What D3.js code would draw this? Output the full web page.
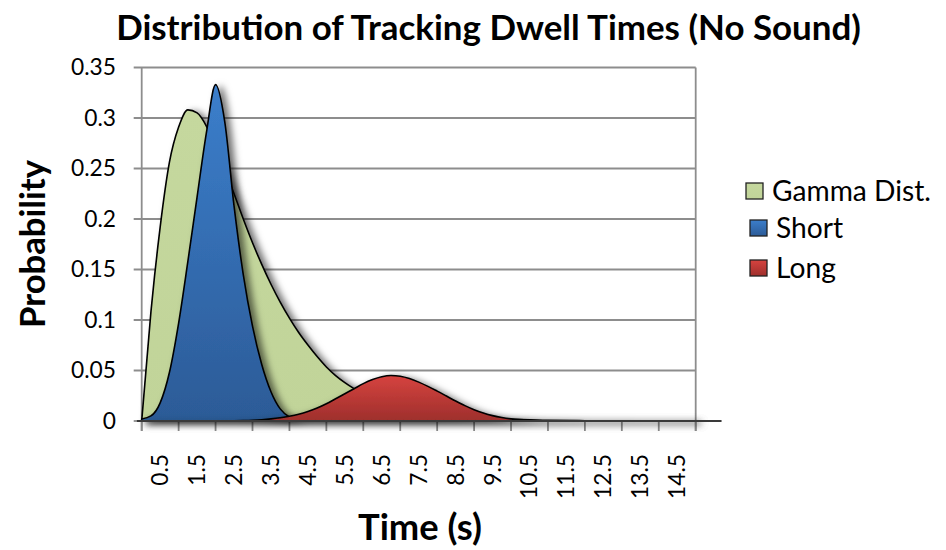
<!DOCTYPE html>
<html><head><meta charset="utf-8">
<script src="https://cdn.jsdelivr.net/npm/d3@7"></script>
<style>html,body{margin:0;padding:0;background:#fff;}svg{display:block;font-family:Lato,"Open Sans",sans-serif;}</style>
</head><body>
<svg id="chart" width="946" height="550"></svg>
<script>
// ---- data ----
const times = [0,0.25,0.5,0.75,1,1.25,1.5,1.75,2,2.25,2.5,2.75,3,3.25,3.5,3.75,4,4.25,4.5,4.75,5,5.25,5.5,5.75,6,6.25,6.5,6.75,7,7.25,7.5,7.75,8,8.25,8.5,8.75,9,9.25,9.5,9.75,10,10.5,11,12,13,14,15];
const gammaDist = [0,0.108,0.192,0.256,0.291,0.308,0.305,0.292,0.271,0.249,0.225,0.200,0.1765,0.155,0.1354,0.1177,0.1018,0.0876,0.0752,0.0638,0.0535,0.0450,0.0380,0.0320,0.0270,0.0230,0.0195,0.0165,0.0140,0.0120,0.0100,0.0085,0.0070,0.0060,0.0050,0.0042,0.0035,0.0030,0.0025,0.0020,0.0017,0.0011,0.0007,0.0003,0.0001,0,0];
const shortVals = [0.002,0.005,0.018,0.048,0.097,0.158,0.222,0.285,0.333,0.296,0.213,0.145,0.094,0.056,0.029,0.012,0.004,0.001,0,0,0,0,0,0,0,0,0,0,0,0,0,0,0,0,0,0,0,0,0,0,0,0,0,0,0,0,0];
const longVals = [0,0,0,0,0,0,0,0,0.0001,0.0002,0.0003,0.0005,0.0008,0.0013,0.0021,0.0032,0.0047,0.0067,0.0094,0.0128,0.017,0.022,0.027,0.032,0.037,0.041,0.0438,0.0450,0.0443,0.0420,0.0385,0.0343,0.0296,0.0247,0.0198,0.0152,0.0112,0.0079,0.0053,0.0034,0.0021,0.0007,0.0002,0,0,0,0];
const categoryLabels = ["0.5","1.5","2.5","3.5","4.5","5.5","6.5","7.5","8.5","9.5","10.5","11.5","12.5","13.5","14.5"];
const categoryEdges = [0,1,2,3,4,5,6,7,8,9,10,11,12,13,14,15];
const yTickValues = [0,0.05,0.1,0.15,0.2,0.25,0.3,0.35];
const yTickLabels = ["0","0.05","0.1","0.15","0.2","0.25","0.3","0.35"];
const seriesNames = ["Gamma Dist.","Short","Long"];
const titleText = "Distribution of Tracking Dwell Times (No Sound)";
const xTitle = "Time (s)";
const yTitle = "Probability";

// ---- layout ----
const svg = d3.select("#chart");
const plotL = 141.7, plotR = 695.7, plotT = 67.5, plotB = 421;
const x = d3.scaleLinear().domain([0, 15]).range([plotL, plotR]);
const y = d3.scaleLinear().domain([0, 0.35]).range([plotB, plotT]);
const band = d3.scaleBand().domain(categoryLabels).range([plotL, plotR]).padding(0);

function fit(sel, target) {
  const fs = parseFloat(sel.attr("font-size"));
  const w = sel.node().getComputedTextLength();
  const nfs = fs * target / w;
  sel.attr("font-size", nfs);
  return nfs;
}

const defs = svg.append("defs");
const f = defs.append("filter").attr("id", "shadow").attr("filterUnits", "userSpaceOnUse")
  .attr("x", 0).attr("y", 0).attr("width", 946).attr("height", 550);
f.append("feDropShadow").attr("dx", 5).attr("dy", 2).attr("stdDeviation", 3.5)
  .attr("flood-color", "#000").attr("flood-opacity", 0.55);

function grad(id, c1, c2) {
  const g = defs.append("linearGradient").attr("id", id).attr("x1", 0).attr("y1", 0).attr("x2", 0).attr("y2", 1);
  g.append("stop").attr("offset", "0%").attr("stop-color", c1);
  g.append("stop").attr("offset", "100%").attr("stop-color", c2);
}
grad("gBlue", "#3B7ECB", "#2C5B97");
grad("gRed", "#D6433F", "#9E2F2C");
grad("gGreen", "#C5D89E", "#C1D499");
const fills = ["url(#gGreen)", "url(#gBlue)", "url(#gRed)"];

// gridlines
svg.append("g").selectAll("line").data(yTickValues.filter(v => v > 0)).join("line")
  .attr("x1", plotL - 8).attr("x2", plotR)
  .attr("y1", d => y(d)).attr("y2", d => y(d))
  .attr("stroke", "#8d8d8d").attr("stroke-width", 1.8);
svg.append("line").attr("x1", plotL - 8).attr("x2", plotL).attr("y1", y(0)).attr("y2", y(0))
  .attr("stroke", "#8d8d8d").attr("stroke-width", 1.8);
svg.append("line").attr("x1", plotL).attr("x2", plotL).attr("y1", y(0.35)).attr("y2", y(0) + 10)
  .attr("stroke", "#8d8d8d").attr("stroke-width", 1.8);
svg.append("line").attr("x1", plotR).attr("x2", plotR).attr("y1", y(0.35)).attr("y2", y(0) + 10)
  .attr("stroke", "#8d8d8d").attr("stroke-width", 1.8);
svg.append("g").selectAll("line").data(categoryEdges).join("line")
  .attr("x1", d => x(d)).attr("x2", d => x(d))
  .attr("y1", y(0)).attr("y2", y(0) + 10)
  .attr("stroke", "#8d8d8d").attr("stroke-width", 1.8);

// areas
const data = [gammaDist, shortVals, longVals];
const area = d3.area().x((d, i) => x(times[i])).y0(y(0)).y1(d => y(d)).curve(d3.curveMonotoneX);
svg.append("g").selectAll("path").data(data).join("path")
  .attr("d", d => area(d))
  .attr("fill", (d, i) => fills[i])
  .attr("stroke", "#000").attr("stroke-width", 1.6).attr("stroke-linejoin", "round")
  .attr("filter", "url(#shadow)");

// x axis baseline
svg.append("line").attr("x1", x(-0.13)).attr("x2", x(15.7)).attr("y1", y(0)).attr("y2", y(0))
  .attr("stroke", "#3a3a3a").attr("stroke-width", 2.2);

// y tick labels
const yl = svg.append("g").selectAll("text").data(yTickValues).join("text")
  .attr("x", 116).attr("y", d => y(d)).attr("dy", "0.35em")
  .attr("text-anchor", "end").attr("font-size", 22).attr("fill", "#000")
  .text((d, i) => yTickLabels[i]);
const tickFs = fit(d3.select(yl.nodes()[7]), 45);
yl.attr("font-size", tickFs);

// x tick labels
svg.append("g").selectAll("text").data(categoryLabels).join("text")
  .attr("transform", d => `translate(${band(d) + band.bandwidth() / 2},454) rotate(-90)`)
  .attr("dy", "0.35em").attr("text-anchor", "end")
  .attr("font-size", tickFs).attr("fill", "#000").text(d => d);

// titles
const t = svg.append("text").attr("x", 488.5).attr("y", 40).attr("text-anchor", "middle")
  .attr("font-weight", "bold").attr("font-size", 31).text(titleText);
fit(t, 745);
const xt = svg.append("text").attr("x", 420).attr("y", 540).attr("text-anchor", "middle")
  .attr("font-weight", "bold").attr("font-size", 30).text(xTitle);
fit(xt, 124);
const yt = svg.append("text").attr("transform", "translate(45,244) rotate(-90)").attr("text-anchor", "middle")
  .attr("font-weight", "bold").attr("font-size", 30).text(yTitle);
fit(yt, 168);

// legend
const legBoxX = [746, 750, 750];
const legY = [191, 228, 268];
const lg = svg.append("g");
lg.selectAll("rect").data(seriesNames).join("rect")
  .attr("x", (d, i) => legBoxX[i]).attr("y", (d, i) => legY[i] - 8)
  .attr("width", 17).attr("height", 16)
  .attr("fill", (d, i) => fills[i]).attr("stroke", "#222").attr("stroke-width", 1.3);
const lt = lg.selectAll("text").data(seriesNames).join("text")
  .attr("x", (d, i) => legBoxX[i] + 26).attr("y", (d, i) => legY[i]).attr("dy", "0.35em")
  .attr("font-size", 25).attr("fill", "#000").text(d => d);
const legFs = fit(d3.select(lt.nodes()[0]), 159);
lt.attr("font-size", legFs);
</script>
</body></html>
